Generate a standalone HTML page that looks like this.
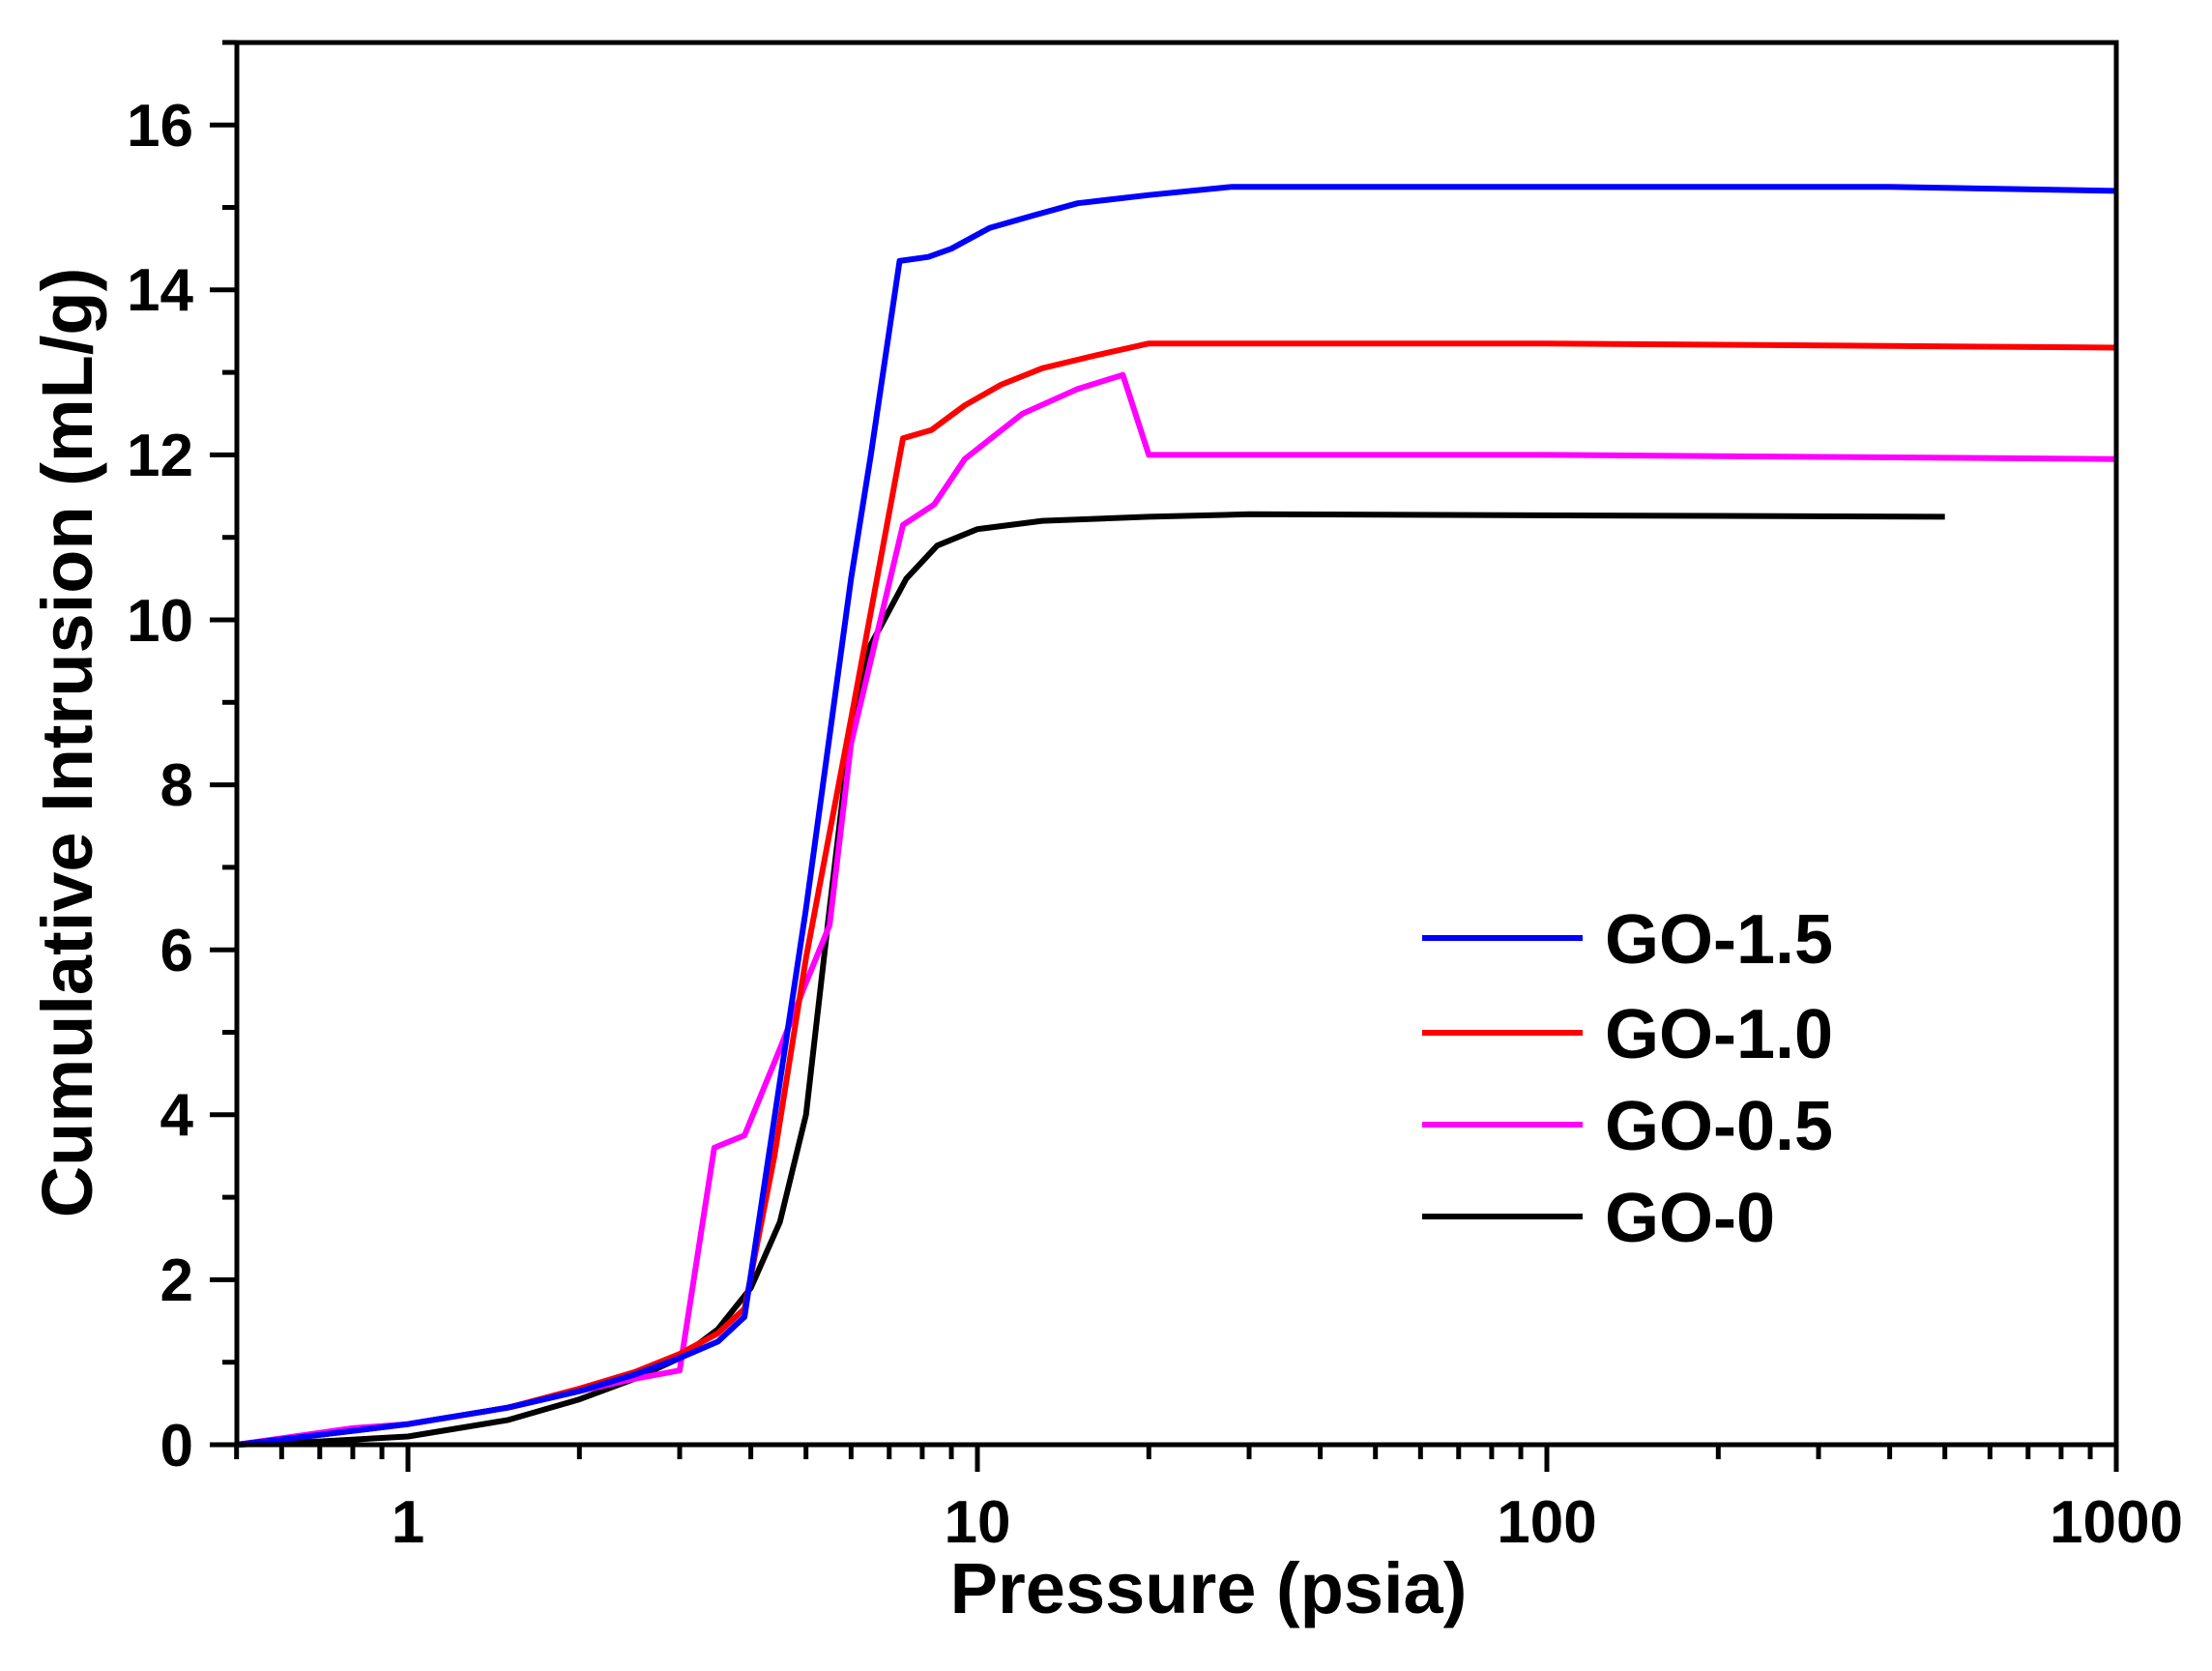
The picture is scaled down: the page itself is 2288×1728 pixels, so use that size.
<!DOCTYPE html>
<html><head><meta charset="utf-8"><style>
html,body{margin:0;padding:0;background:#fff;}
svg{display:block;font-family:"Liberation Sans",Arial,sans-serif;font-weight:bold;}
</style></head><body>
<svg id="s" width="2288" height="1728" viewBox="0 0 2288 1728" xmlns="http://www.w3.org/2000/svg">
<g id="ticks" stroke="#000" stroke-width="5"></g>
<g id="series" fill="none" stroke-width="6" stroke-linejoin="round"></g>
<rect x="245" y="44" width="1944" height="1450" fill="none" stroke="#000" stroke-width="5"/>
<g font-size="62" text-anchor="end" fill="#000">
<text x="200" y="1516">0</text><text x="200" y="1345">2</text><text x="200" y="1174">4</text><text x="200" y="1004">6</text><text x="200" y="833">8</text><text x="200" y="663">10</text><text x="200" y="492">12</text><text x="200" y="321">14</text><text x="200" y="151">16</text>
</g>
<g font-size="62" text-anchor="middle" fill="#000">
<text x="422" y="1595">1</text><text x="1011" y="1595">10</text><text x="1600" y="1595">100</text><text x="2189" y="1595">1000</text>
</g>
<text x="1250" y="1668" font-size="74" text-anchor="middle">Pressure (psia)</text>
<text transform="translate(95,768) rotate(-90)" font-size="74" text-anchor="middle">Cumulative Intrusion (mL/g)</text>
<g stroke-width="6">
<line x1="1471" y1="970" x2="1637" y2="970" stroke="#0000ff"/>
<line x1="1471" y1="1068" x2="1637" y2="1068" stroke="#ff0000"/>
<line x1="1471" y1="1163" x2="1637" y2="1163" stroke="#ff00ff"/>
<line x1="1471" y1="1258" x2="1637" y2="1258" stroke="#000"/>
</g>
<g font-size="72" fill="#000">
<text x="1660" y="996">GO-1.5</text>
<text x="1660" y="1094">GO-1.0</text>
<text x="1660" y="1189">GO-0.5</text>
<text x="1660" y="1284">GO-0</text>
</g>
</svg>
<script>
var X=function(p){return 422+589*Math.log10(p);};
var Y=function(v){return 1494-85.3*v;};
var NS="http://www.w3.org/2000/svg";
var tk=document.getElementById("ticks");
function ln(x1,y1,x2,y2){var l=document.createElementNS(NS,"line");l.setAttribute("x1",x1);l.setAttribute("y1",y1);l.setAttribute("x2",x2);l.setAttribute("y2",y2);tk.appendChild(l);}
for(var v=0;v<=17;v++){var y=Y(v);ln(245,y,245-(v%2==0?28:15),y);}
for(var d=-1;d<3;d++){for(var m=1;m<10;m++){var p=m*Math.pow(10,d);if(p<0.5)continue;var x=X(p);ln(x,1494,x,1494+(m==1?28:15));}}
ln(X(1000),1494,X(1000),1522);
var data={
"#0000ff":[[0.5,0],[0.7,0.12],[1,0.25],[1.5,0.45],[2,0.65],[2.5,0.85],[3,1.05],[3.5,1.25],[3.9,1.55],[4.3,3.5],[5,6.5],[6,10.5],[6.5,12],[7.3,14.35],[8.2,14.4],[9,14.5],[10.5,14.75],[12.5,14.9],[15,15.05],[20,15.15],[28,15.25],[100,15.25],[400,15.25],[1000,15.2]],
"#ff0000":[[0.5,0],[0.7,0.12],[1,0.25],[1.5,0.45],[2,0.68],[2.5,0.88],[3,1.1],[3.5,1.35],[3.9,1.65],[4.4,3.5],[5,5.9],[6,8.8],[7.4,12.2],[8.3,12.3],[9.5,12.6],[11,12.85],[13,13.05],[16,13.2],[20,13.35],[100,13.35],[1000,13.3]],
"#ff00ff":[[0.5,0],[0.8,0.2],[1,0.25],[1.5,0.45],[2,0.65],[2.5,0.8],[3,0.9],[3.45,3.6],[3.9,3.75],[4.5,4.8],[5,5.6],[5.5,6.3],[6,8.5],[7.4,11.15],[8.4,11.4],[9.5,11.95],[12,12.5],[15,12.8],[18,12.97],[20,12],[100,12],[1000,11.95]],
"#000000":[[0.5,0],[0.7,0.04],[1,0.1],[1.5,0.3],[2,0.55],[2.5,0.8],[3,1.05],[3.5,1.4],[4,1.9],[4.5,2.7],[5,4],[5.5,6.5],[6,8.7],[6.5,9.7],[7.5,10.5],[8.5,10.9],[10,11.1],[13,11.2],[20,11.25],[30,11.28],[500,11.25]]
};
var g=document.getElementById("series");
["#000000","#ff00ff","#ff0000","#0000ff"].forEach(function(c){
 var d=data[c].map(function(pt,i){return (i?"L":"M")+X(pt[0]).toFixed(1)+","+Y(pt[1]).toFixed(1);}).join("");
 var p=document.createElementNS(NS,"path");p.setAttribute("d",d);p.setAttribute("stroke",c);g.appendChild(p);
});
</script>
</body></html>
